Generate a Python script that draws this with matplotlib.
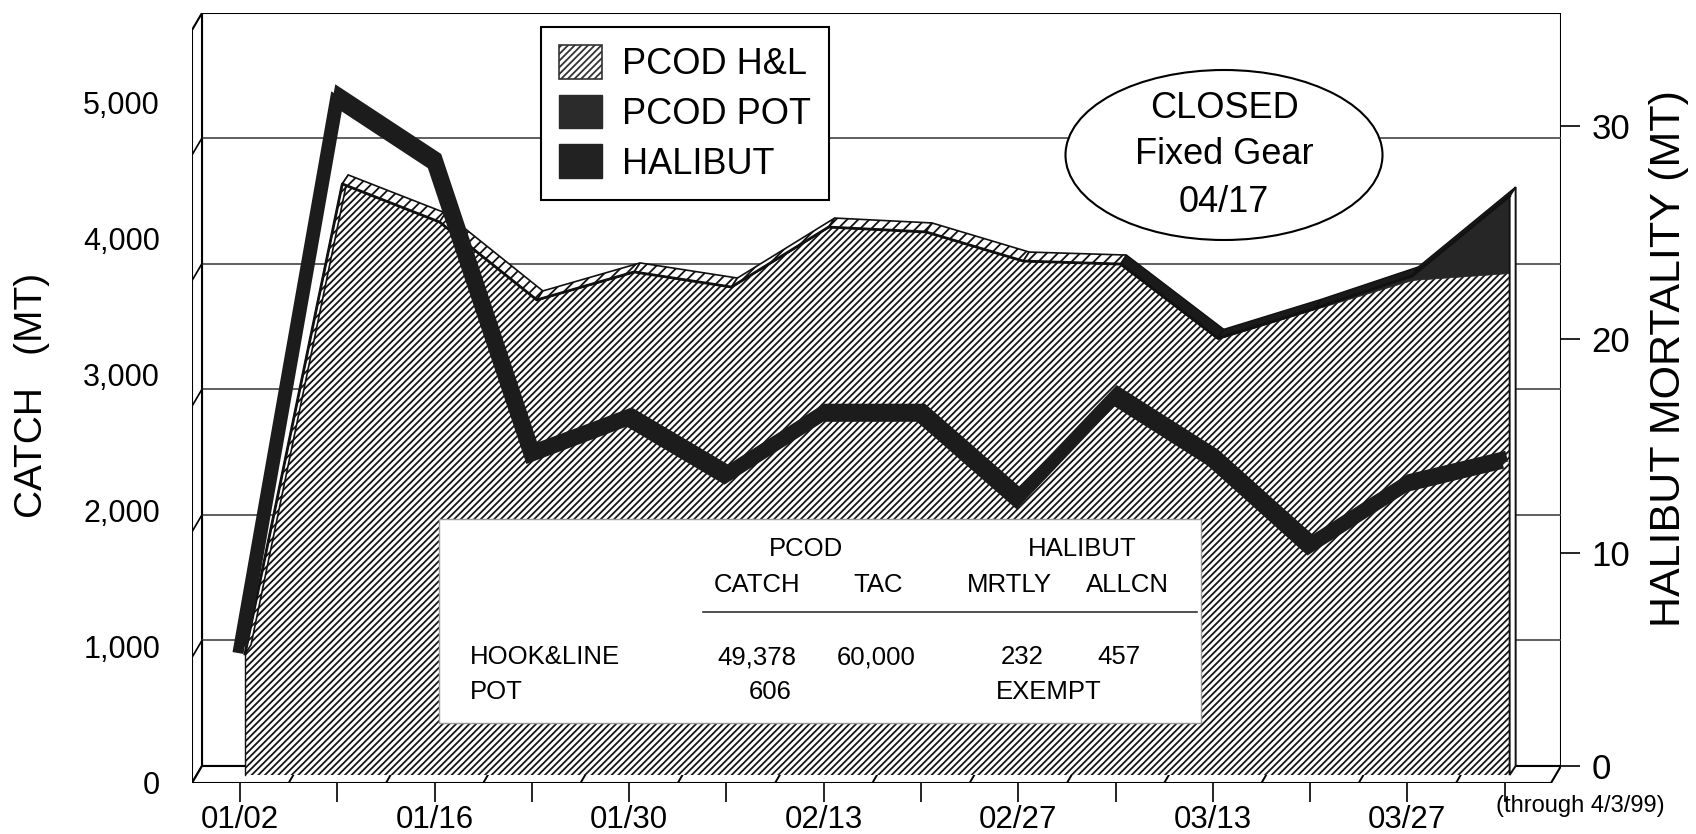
import numpy as np
import matplotlib.pyplot as plt
from matplotlib import font_manager
from matplotlib.patches import Polygon, Ellipse, Rectangle, Patch
from matplotlib.lines import Line2D

names = {f.name for f in font_manager.fontManager.ttflist}
NARROW = 'Liberation Sans Narrow' if 'Liberation Sans Narrow' in names else 'Liberation Sans'
plt.rcParams['font.family'] = ['Liberation Sans', 'DejaVu Sans']
plt.rcParams['hatch.linewidth'] = 1.3

# weekly data, 1999 season
weeks = ['01/02', '01/09', '01/16', '01/23', '01/30', '02/06', '02/13',
         '02/20', '02/27', '03/06', '03/13', '03/20', '03/27', '04/03']
tick_text = [w if i % 2 == 0 else '' for i, w in enumerate(weeks)]
pcod_hl = [890, 4346, 4066, 3493, 3699, 3588, 4029, 3993, 3779, 3757, 3206, 3426, 3640, 3691]
pcod_pot = [0, 0, 0, 0, 0, 0, 0, 0, 0, 0, 5, 5, 30, 566]
halibut_mrt = [6.0, 31.9, 28.9, 15.2, 16.9, 14.2, 17.1, 17.1, 13.1, 17.9, 15.0, 10.9, 13.8, 14.9]
catch_ticks = [0, 1000, 2000, 3000, 4000, 5000]
mrt_ticks = [0, 10, 20, 30]
legend_labels = ['PCOD H&L', 'PCOD POT', 'HALIBUT']
closed_note = ['CLOSED', 'Fixed Gear', '04/17']
table_head1 = ['PCOD', 'HALIBUT']
table_head2 = ['CATCH', 'TAC', 'MRTLY', 'ALLCN']
table_rows = [['HOOK&LINE', '49,378', '60,000', '232', '457'],
              ['POT', '606', '', 'EXEMPT', '']]

W, H = 1696, 834
fig = plt.figure(figsize=(W / 100, H / 100), dpi=100)

# layout (pixels)
X0, SX = 240, 97.28      # week 0 x, px per week
Y0, SY = 783, 0.136      # catch 0 at front edge, px per MT catch
LEFT, RIGHT, TOP = 192, 1561, 13
DX, DY = 10, 17          # depth of the box
M0, SM = 766, 21.33      # right axis zero (back floor), px per MT

def fx(px):
    return px / W

def fy(py):
    return 1 - py / H

ax = fig.add_axes([fx(LEFT), fy(Y0), (RIGHT - LEFT) / W, (Y0 - TOP) / H])
ax.set_xlim((LEFT - X0) / SX, (RIGHT - X0) / SX)
ax.set_ylim(0, (Y0 - TOP) / SY)
ux, uy = 1 / SX, 1 / SY
xl, xr = ax.get_xlim()
yt = ax.get_ylim()[1]
bdx, bdy = DX * ux, DY * uy

for s in ax.spines.values():
    s.set_visible(False)

# box: back wall, left wall, floor
ax.add_patch(Polygon([(xl + bdx, bdy), (xr, bdy), (xr, yt), (xl + bdx, yt)],
                     fc='white', ec='black', lw=1.5, zorder=0))
ax.add_patch(Polygon([(xl, 0), (xl + bdx, bdy), (xl + bdx, yt), (xl, yt - bdy)],
                     fc='white', ec='black', lw=1.5, zorder=0.5))
ax.add_patch(Polygon([(xl, 0), (xr - bdx, 0), (xr, bdy), (xl + bdx, bdy)],
                     fc='white', ec='black', lw=1.5, zorder=0.5))
x = np.arange(len(weeks))
for b in x[:-1] + 0.5:
    ax.plot([b, b + bdx], [0, bdy], color='black', lw=1.4, zorder=0.6)

# grid on the back wall
grid_step = 125.6 * uy
for k in range(1, 6):
    gy = bdy + k * grid_step
    ax.plot([xl + bdx, xr], [gy, gy], color='#444444', lw=1.2, zorder=0.6)
    ax.plot([xl, xl + bdx], [gy - bdy, gy], color='black', lw=1.2, zorder=0.6)

# stacked area (sits in the middle of the box depth)
a_dx, a_dy = 5 * ux, 8 * uy
t_dx, t_dy = 6 * ux, 9 * uy
xa = x + a_dx
hl = np.array(pcod_hl, dtype=float)
pot = np.array(pcod_pot, dtype=float)
tot = hl + pot
ax.fill_between(xa, a_dy, hl + a_dy, facecolor='white', edgecolor='#151515',
                hatch='/////', linewidth=0, zorder=2)
ax.fill_between(xa, hl + a_dy, tot + a_dy, facecolor='#262626', edgecolor='#262626',
                linewidth=0.5, zorder=2)
ax.plot(xa, tot + a_dy, color='#111111', lw=2, zorder=2.2)
ax.plot([xa[0], xa[0]], [a_dy, tot[0] + a_dy], color='#111111', lw=1, zorder=2.2)
for i in range(len(x) - 1):
    t0, t1 = tot[i] + a_dy, tot[i + 1] + a_dy
    quad = [(xa[i], t0), (xa[i + 1], t1), (xa[i + 1] + t_dx, t1 + t_dy), (xa[i] + t_dx, t0 + t_dy)]
    if pot[i] > 0 or pot[i + 1] > 0:
        ax.add_patch(Polygon(quad, fc='#1a1a1a', ec='#111111', lw=1, zorder=2.1))
    else:
        ax.add_patch(Polygon(quad, fc='white', ec='#111111', hatch='///', lw=1.2, zorder=2.1))
ax.add_patch(Polygon([(xa[-1], a_dy), (xa[-1], tot[-1] + a_dy),
                      (xa[-1] + t_dx, tot[-1] + a_dy + t_dy), (xa[-1] + t_dx, a_dy + t_dy)],
                     fc='white', ec='#111111', lw=1.4, zorder=2.1))

# left axis ticks
ax.set_yticks(catch_ticks)
ax.set_yticklabels([f'{v:,}' for v in catch_ticks])
ax.tick_params(axis='y', length=0, pad=23, labelsize=22)
ax.set_xticks(x)
ax.set_xticklabels(tick_text, fontfamily=NARROW)
ax.tick_params(axis='x', length=14, width=1.2, pad=2, labelsize=22.5)

# right axis (halibut mortality)
ax2 = ax.twinx()
ax2.set_ylim((M0 - Y0) / SM, (M0 - TOP) / SM)
for s in ax2.spines.values():
    s.set_visible(False)
ax2.set_yticks(mrt_ticks)
ax2.tick_params(axis='y', length=14, width=1.2, pad=8, labelsize=25)

mrt = np.array(halibut_mrt)
l_dy = (M0 - 781) / SM
ax2.plot(x - 2 * ux, mrt + l_dy, color='#1c1c1c', lw=8,
         solid_joinstyle='miter', solid_capstyle='butt', zorder=3)
ax2.plot(x + 2 * ux, mrt + l_dy + 7 / SM, color='#1c1c1c', lw=8,
         solid_joinstyle='miter', solid_capstyle='butt', zorder=3)

# legend
handles = [Patch(facecolor='white', edgecolor='#333333', hatch='/////', lw=1.2),
           Patch(facecolor='#2b2b2b', edgecolor='#2b2b2b'),
           Patch(facecolor='#222222', edgecolor='#222222')]
leg = ax2.legend(handles, legend_labels, loc='upper left',
                 bbox_to_anchor=(fx(541), fy(27)), bbox_transform=fig.transFigure,
                 fontsize=26, frameon=True, fancybox=False, framealpha=1,
                 edgecolor='black', handlelength=1.2, handleheight=1.05,
                 handletextpad=0.55, labelspacing=0.35, borderpad=0.5, borderaxespad=0)
leg.get_frame().set_linewidth(1.5)

# closed note
fig.add_artist(Ellipse((fx(1224), fy(155)), 317 / W, 170 / H, transform=fig.transFigure,
                       fc='white', ec='black', lw=1.5))
for txt, py in zip(closed_note, [108, 155, 203]):
    fig.text(fx(1224), fy(py), txt, ha='center', va='center', fontsize=26)

# summary table
fig.add_artist(Rectangle((fx(439), fy(723)), 762 / W, 204 / H, transform=fig.transFigure,
                         fc='white', ec='#999999', lw=1))
for txt, px in zip(table_head1, [806, 1082]):
    fig.text(fx(px), fy(549), txt, ha='center', va='center', fontsize=18.5, family=NARROW)
for txt, px in zip(table_head2, [757, 878, 1009, 1127]):
    fig.text(fx(px), fy(585), txt, ha='center', va='center', fontsize=18.5, family=NARROW)
fig.add_artist(Line2D([fx(703), fx(1197)], [fy(612), fy(612)], color='#333333', lw=1.2))
col_x = [470, 757, 876, 1022, 1119]
for row, py in zip(table_rows, [657, 692]):
    fig.text(fx(col_x[0]), fy(py), row[0], ha='left', va='center', fontsize=18.5, family=NARROW)
    for txt, px in zip(row[1:], [770 if row[0] == 'POT' else 757, 876, 1049 if row[0] == 'POT' else 1022, 1119]):
        fig.text(fx(px), fy(py), txt, ha='center', va='center', fontsize=18.5, family=NARROW)

# axis titles
fig.text(fx(32), fy(395), 'CATCH   (MT)', rotation=90, ha='center', va='center',
         fontsize=28, family=NARROW)
fig.text(fx(1669), fy(359), 'HALIBUT MORTALITY (MT)', rotation=90, ha='center', va='center',
         fontsize=31, family=NARROW)
fig.text(fx(1580), fy(806), '(through 4/3/99)', ha='center', va='center', fontsize=17, family=NARROW)

fig.savefig('out.png', dpi=100)
